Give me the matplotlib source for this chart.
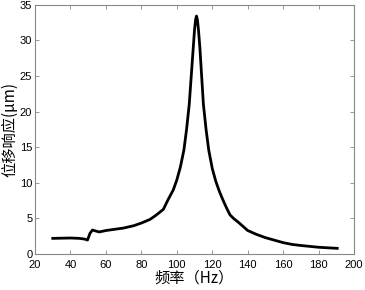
import matplotlib
matplotlib.use('Agg')
import matplotlib.pyplot as plt

plt.rcParams['font.family'] = ['Liberation Sans', 'Noto Sans CJK SC', 'DejaVu Sans']

freq = [30, 40, 45, 48, 49.6, 51, 52.4, 54, 56.2, 60, 70, 75.6, 80, 84.8, 88,
        92.4, 95, 98, 100, 102, 104, 105.5, 107, 108, 109, 110, 110.6, 111.1,
        111.6, 112.2, 113, 114, 115, 116.5, 118, 120, 122, 124, 126, 128, 130,
        132, 135, 140, 145, 150, 155, 160, 165, 170, 180, 190.5]
disp = [2.2, 2.25, 2.2, 2.1, 1.96, 2.9, 3.37, 3.25, 3.1, 3.3, 3.65, 3.97, 4.35,
        4.85, 5.4, 6.27, 7.6, 9.0, 10.4, 12.2, 14.6, 17.5, 21.0, 24.5, 28.0, 31.5,
        32.9, 33.4, 32.9, 31.5, 29.0, 25.0, 21.0, 17.5, 14.6, 12.0, 10.2, 8.8,
        7.6, 6.5, 5.5, 5.0, 4.4, 3.3, 2.75, 2.3, 1.95, 1.6, 1.35, 1.2, 0.95, 0.8]

fig = plt.figure(figsize=(3.65, 2.9), dpi=100)
ax = fig.add_axes([0.096, 0.124, 0.874, 0.86])
ax.plot(freq, disp, color='black', linewidth=2)

ax.set_xlim(20, 200)
ax.set_ylim(0, 35)
ax.set_xticks(range(20, 201, 20))
ax.set_yticks(range(0, 36, 5))
ax.tick_params(direction='in', top=True, right=True, labelsize=8, length=3,
               color='#888888', width=0.6)
ax.tick_params(axis='x', pad=4)
ax.tick_params(axis='y', pad=2)
for s in ax.spines.values():
    s.set_color('#888888')
    s.set_linewidth(0.8)

ax.set_xlabel('频率（Hz）', fontsize=11, family=['Noto Sans CJK SC'], labelpad=0)
ax.set_ylabel('位移响应(μm)', fontsize=11, family=['Noto Sans CJK SC', 'DejaVu Sans'], labelpad=1)

fig.savefig('out.png', dpi=100)
